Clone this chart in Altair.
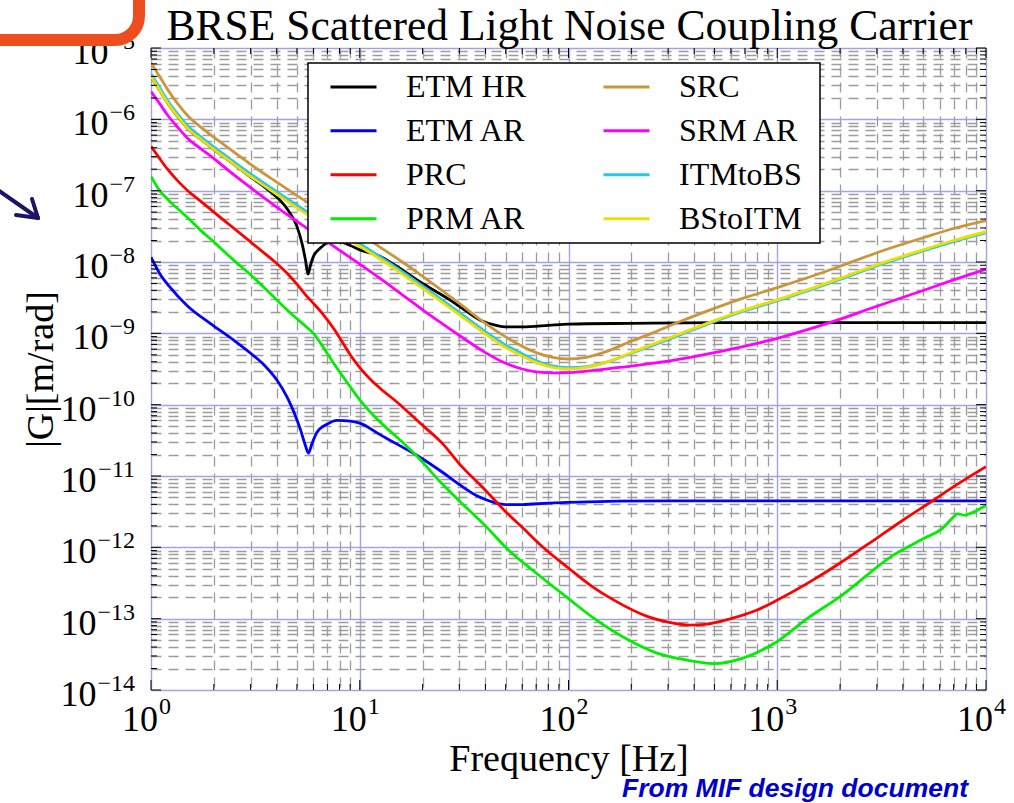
import altair as alt
import pandas as pd

# ---- scattered-light coupling |G| [m/rad] versus frequency [Hz] ----
ETM_HR_F = [1, 1.1, 1.2, 1.35, 1.5, 1.75, 2, 2.5, 3, 3.5, 4, 4.5, 5, 5.3, 5.5, 5.65, 5.8, 6.0,
            6.5, 7.2, 8, 9, 10, 12.5, 15, 20, 26, 30, 38, 45, 50, 60, 80, 100, 200, 500, 1000,
            3000, 10000]
ETM_HR_G = [3.98e-6, 2.57e-6, 1.70e-6, 1.07e-6, 7.41e-7, 5.13e-7, 3.80e-7, 2.34e-7, 1.55e-7,
            1.12e-7, 8.13e-8, 5.50e-8, 3.16e-8, 1.78e-8, 1.05e-8, 6.76e-9, 8.91e-9, 1.20e-8,
            1.58e-8, 1.91e-8, 1.91e-8, 1.70e-8, 1.48e-8, 1.20e-8, 8.71e-9, 5.01e-9, 3.16e-9,
            2.40e-9, 1.51e-9, 1.29e-9, 1.23e-9, 1.23e-9, 1.29e-9, 1.35e-9, 1.38e-9, 1.41e-9,
            1.41e-9, 1.41e-9, 1.41e-9]

ETM_AR_F = [1, 1.1, 1.23, 1.5, 1.92, 2.5, 3, 3.5, 4, 4.5, 4.8, 5.2, 5.5, 5.67, 5.9, 6.2, 7, 7.8,
            9, 10, 12.5, 15, 19, 25, 30, 36, 40, 45, 50, 60, 80, 100, 300, 1000, 10000]
ETM_AR_G = [1.17e-8, 6.92e-9, 4.47e-9, 2.40e-9, 1.38e-9, 7.94e-10, 5.25e-10, 3.55e-10, 2.24e-10,
            1.26e-10, 8.32e-11, 4.47e-11, 2.63e-11, 2.09e-11, 2.82e-11, 3.98e-11, 5.37e-11,
            6.03e-11, 5.89e-11, 5.50e-11, 3.80e-11, 2.82e-11, 1.91e-11, 1.12e-11, 7.59e-12,
            5.37e-12, 4.68e-12, 4.17e-12, 3.98e-12, 3.98e-12, 4.17e-12, 4.27e-12, 4.47e-12,
            4.47e-12, 4.47e-12]

PRC_F = [1, 1.1, 1.2, 1.35, 1.5, 1.75, 2, 2.5, 3, 3.5, 4, 4.5, 5, 5.5, 6, 6.7, 7.5, 8, 9, 10,
         11.2, 12.5, 15, 20, 25, 30, 40, 50, 60, 75, 100, 130, 165, 240, 300, 380, 450, 600,
         800, 1000, 1500, 2000, 3000, 4000, 5600, 7000, 10000]
PRC_G = [4.17e-7, 2.82e-7, 2.00e-7, 1.35e-7, 1.00e-7, 6.92e-8, 5.01e-8, 2.95e-8, 1.91e-8,
         1.32e-8, 9.55e-9, 6.92e-9, 4.90e-9, 3.47e-9, 2.63e-9, 1.82e-9, 1.17e-9, 8.71e-10,
         5.01e-10, 3.31e-10, 2.29e-10, 1.70e-10, 1.10e-10, 5.13e-11, 2.82e-11, 1.48e-11,
         6.31e-12, 3.16e-12, 1.91e-12, 1.02e-12, 5.13e-13, 2.82e-13, 1.82e-13, 1.07e-13,
         8.91e-14, 8.13e-14, 8.32e-14, 1.00e-13, 1.32e-13, 1.82e-13, 3.55e-13, 6.03e-13,
         1.35e-12, 2.40e-12, 4.57e-12, 7.08e-12, 1.35e-11]

PRM_AR_F = [1, 1.1, 1.23, 1.5, 1.72, 2, 2.48, 3, 3.6, 4, 4.8, 5.5, 6, 6.5, 7.5, 9, 10, 12.9, 15,
            18.6, 25, 30, 40, 50, 70, 100, 130, 200, 270, 340, 500, 690, 1000, 1390, 2000, 3600,
            5000, 6200, 6900, 7300, 7900, 8500, 10000]
PRM_AR_G = [1.58e-7, 1.00e-7, 7.08e-8, 4.17e-8, 2.82e-8, 1.91e-8, 1.07e-8, 6.61e-9, 3.98e-9,
            2.95e-9, 1.78e-9, 1.26e-9, 1.00e-9, 7.24e-10, 3.80e-10, 1.78e-10, 1.17e-10,
            5.25e-11, 3.55e-11, 1.95e-11, 7.59e-12, 4.47e-12, 2.00e-12, 1.00e-12, 4.37e-13,
            1.91e-13, 1.05e-13, 4.79e-14, 3.24e-14, 2.75e-14, 2.34e-14, 2.82e-14, 4.79e-14,
            1.00e-13, 2.04e-13, 7.76e-13, 1.32e-12, 1.86e-12, 2.57e-12, 2.95e-12, 2.82e-12,
            3.02e-12, 3.89e-12]

# SRC, ITMtoBS and BStoITM share one frequency grid
OPT_F = [1, 1.1, 1.2, 1.35, 1.5, 1.75, 2, 2.5, 3, 4, 5, 7, 10, 12.5, 16, 20, 30, 40, 50, 60, 70,
         85, 100, 120, 150, 200, 250, 340, 500, 700, 1000, 1500, 2000, 3000, 5000, 7000, 10000]
SRC_G = [6.17e-6, 3.98e-6, 2.63e-6, 1.62e-6, 1.12e-6, 7.59e-7, 5.62e-7, 3.47e-7, 2.34e-7,
         1.32e-7, 8.51e-8, 4.68e-8, 2.51e-8, 1.62e-8, 1.00e-8, 6.31e-9, 2.63e-9, 1.38e-9,
         8.91e-10, 6.61e-10, 5.37e-10, 4.57e-10, 4.37e-10, 4.57e-10, 5.50e-10, 7.76e-10,
         1.00e-9, 1.45e-9, 2.24e-9, 3.16e-9, 4.37e-9, 6.46e-9, 8.71e-9, 1.35e-8, 2.19e-8,
         2.95e-8, 3.80e-8]
ITM_TO_BS_G = [4.32e-6, 2.79e-6, 1.84e-6, 1.16e-6, 8.04e-7, 5.56e-7, 4.12e-7, 2.54e-7, 1.72e-7,
               9.66e-8, 6.24e-8, 3.35e-8, 1.80e-8, 1.19e-8, 7.33e-9, 4.62e-9, 1.97e-9, 1.06e-9,
               6.84e-10, 5.19e-10, 4.17e-10, 3.47e-10, 3.31e-10, 3.39e-10, 3.89e-10, 5.25e-10,
               6.68e-10, 9.44e-10, 1.46e-9, 2.07e-9, 2.85e-9, 4.22e-9, 5.69e-9, 8.81e-9,
               1.43e-8, 1.93e-8, 2.57e-8]
BS_TO_ITM_G = [3.98e-6, 2.57e-6, 1.70e-6, 1.07e-6, 7.41e-7, 5.13e-7, 3.80e-7, 2.34e-7, 1.58e-7,
               8.91e-8, 5.75e-8, 3.09e-8, 1.66e-8, 1.10e-8, 6.76e-9, 4.27e-9, 1.82e-9, 9.77e-10,
               6.31e-10, 4.79e-10, 3.89e-10, 3.31e-10, 3.16e-10, 3.31e-10, 3.89e-10, 5.37e-10,
               6.92e-10, 9.77e-10, 1.51e-9, 2.14e-9, 2.95e-9, 4.37e-9, 5.89e-9, 9.12e-9,
               1.48e-8, 2.00e-8, 2.66e-8]

SRM_AR_F = [1, 1.1, 1.2, 1.35, 1.5, 1.75, 2, 2.5, 3, 4, 5, 7, 10, 12.5, 16, 20, 25, 30, 40, 50,
            60, 70, 85, 100, 150, 200, 300, 500, 700, 1000, 1500, 2000, 3000, 5000, 7000, 10000]
SRM_AR_G = [2.45e-6, 1.66e-6, 1.15e-6, 7.59e-7, 5.37e-7, 3.80e-7, 2.82e-7, 1.66e-7, 1.10e-7,
            5.89e-8, 3.72e-8, 1.91e-8, 9.33e-9, 5.89e-9, 3.47e-9, 2.14e-9, 1.35e-9, 9.33e-10,
            5.37e-10, 3.80e-10, 3.16e-10, 2.88e-10, 2.79e-10, 2.82e-10, 3.16e-10, 3.47e-10,
            4.07e-10, 5.37e-10, 6.61e-10, 8.51e-10, 1.20e-9, 1.58e-9, 2.40e-9, 3.98e-9,
            5.62e-9, 7.94e-9]

# plotting order (later series are drawn on top); also the legend order, column by column
SERIES = [
    ("ETM HR", ETM_HR_F, ETM_HR_G),
    ("ETM AR", ETM_AR_F, ETM_AR_G),
    ("PRC", PRC_F, PRC_G),
    ("PRM AR", PRM_AR_F, PRM_AR_G),
    ("SRC", OPT_F, SRC_G),
    ("SRM AR", SRM_AR_F, SRM_AR_G),
    ("ITMtoBS", OPT_F, ITM_TO_BS_G),
    ("BStoITM", OPT_F, BS_TO_ITM_G),
]
COLORS = {
    "ETM HR": "#000000", "ETM AR": "#0000ff", "PRC": "#ff0000", "PRM AR": "#00ee00",
    "SRC": "#c9963a", "SRM AR": "#ff00ff", "ITMtoBS": "#22c8ee", "BStoITM": "#eedd00",
}
NAMES = [s[0] for s in SERIES]

X_TICK_EXP = [0, 1, 2, 3, 4]
Y_TICK_EXP = [-5, -6, -7, -8, -9, -10, -11, -12, -13, -14]

TITLE = "BRSE Scattered Light Noise Coupling Carrier"
X_TITLE = "Frequency [Hz]"
Y_TITLE = "|G|[m/rad]"
NOTE = "From MIF design document"

W, H = 835, 642
SERIF = "Liberation Serif"
MAJ_GRID = "#a4a4dc"
MIN_GRID = "#9c9c9c"

xs = alt.Scale(type="log", domain=[1, 1e4], nice=False)
ys = alt.Scale(type="log", domain=[1e-14, 1e-5], nice=False)
cs = alt.Scale(domain=NAMES, range=[COLORS[k] for k in NAMES])

x_major = [10.0 ** e for e in X_TICK_EXP]
x_minor = [m * 10.0 ** e for e in X_TICK_EXP[:-1] for m in range(2, 10)]
y_major = [10.0 ** e for e in Y_TICK_EXP]
y_minor = [m * 10.0 ** e for e in Y_TICK_EXP[1:] for m in range(2, 10)]

IS_MAJOR = "abs(log(datum.value)/LN10 - round(log(datum.value)/LN10)) < 0.001"


def grid_props():
    return dict(
        grid=True, ticks=False, labels=False, domain=False,
        gridColor={"condition": {"test": IS_MAJOR, "value": MAJ_GRID}, "value": MIN_GRID},
        gridDash={"condition": {"test": IS_MAJOR, "value": [1, 0]}, "value": [10, 7]},
        gridWidth={"condition": {"test": IS_MAJOR, "value": 1.4}, "value": 1.3},
        titleFont=SERIF, titleFontWeight="normal", titleColor="black",
        titleBaseline="alphabetic", titleAlign="center",
    )


# the same axis objects are given to every layer that uses the scale
x_axis = alt.Axis(values=sorted(x_major + x_minor), title=X_TITLE, titleFontSize=38,
                  titleX=W / 2, titleY=80, **grid_props())
y_axis = alt.Axis(values=sorted(y_major + y_minor), title=Y_TITLE, titleFontSize=38,
                  titleX=-99, titleY=H / 2, titleAngle=270, **grid_props())


def X(field):
    return alt.X(field, scale=xs, axis=x_axis)


def Y(field):
    return alt.Y(field, scale=ys, axis=y_axis)


legend = alt.Legend(
    title=None, orient="none", legendX=178, legendY=14.3, columns=2, columnPadding=70,
    rowPadding=3, padding=0, symbolType="stroke", symbolSize=2116, symbolStrokeWidth=3,
    labelFont=SERIF, labelFontSize=32, labelColor="black", labelOffset=28, labelLimit=0,
)

layers = []
for i, (name, f, g) in enumerate(SERIES):
    df = pd.DataFrame({"f": f, "G": g, "series": name})
    layers.append(
        alt.Chart(df).mark_line(strokeWidth=2.8, interpolate="monotone", clip=True).encode(
            x=X("f:Q"), y=Y("G:Q"),
            color=alt.Color("series:N", scale=cs, legend=legend if i == 0 else None),
        )
    )

one = pd.DataFrame({"k": [0]})

# legend frame
layers.append(
    alt.Chart(one).mark_rect(fill="white", stroke="black", strokeWidth=1.5).encode(
        x=alt.value(157), x2=alt.value(669), y=alt.value(15), y2=alt.value(195)
    )
)


# inward tick marks on all four sides
def xticks(vals, length):
    base = alt.Chart(pd.DataFrame({"v": vals})).mark_rule(color="black", strokeWidth=1)
    return [
        base.encode(x=X("v:Q"), y=alt.value(H), y2=alt.value(H - length)),
        base.encode(x=X("v:Q"), y=alt.value(0), y2=alt.value(length)),
    ]


def yticks(vals, length):
    base = alt.Chart(pd.DataFrame({"v": vals})).mark_rule(color="black", strokeWidth=1)
    return [
        base.encode(y=Y("v:Q"), x=alt.value(0), x2=alt.value(length)),
        base.encode(y=Y("v:Q"), x=alt.value(W), x2=alt.value(W - length)),
    ]


layers += xticks(x_major, 10) + xticks(x_minor, 6) + yticks(y_major, 10) + yticks(y_minor, 6)

# tick labels written as 10 with a raised exponent
xl = pd.DataFrame({"v": x_major, "base": "10", "exp": [str(e) for e in X_TICK_EXP]})
layers.append(
    alt.Chart(xl).mark_text(align="right", baseline="alphabetic", dx=7, font=SERIF,
                            fontSize=36, color="black").encode(
        x=X("v:Q"), y=alt.value(683), text="base:N")
)
layers.append(
    alt.Chart(xl).mark_text(align="left", baseline="alphabetic", dx=8, font=SERIF,
                            fontSize=24, color="black").encode(
        x=X("v:Q"), y=alt.value(666), text="exp:N")
)

yl = pd.DataFrame({"v": y_major, "e": Y_TICK_EXP, "base": "10",
                   "exp": ["\u2212" + str(abs(e)) for e in Y_TICK_EXP]})
layers.append(
    alt.Chart(yl).mark_text(align="right", baseline="alphabetic", dy=1, font=SERIF,
                            fontSize=24, color="black").encode(
        y=Y("v:Q"), x=alt.value(-16), text="exp:N")
)
for cond, xpos in (("datum.e >= -9", -42.5), ("datum.e <= -10", -54.5)):
    layers.append(
        alt.Chart(yl).transform_filter(cond).mark_text(
            align="right", baseline="alphabetic", dy=16, font=SERIF, fontSize=36,
            color="black").encode(
            y=Y("v:Q"), x=alt.value(xpos), text="base:N")
    )

# chart heading
layers.append(
    alt.Chart(pd.DataFrame({"t": [TITLE]})).mark_text(
        align="center", baseline="alphabetic", font=SERIF, fontSize=43.5, color="black").encode(
        x=alt.value(W / 2 + 1), y=alt.value(-8), text="t:N")
)

# slide callout box and pointer
layers.append(
    alt.Chart(one).mark_rect(fill="white", stroke="#ee4e1f", strokeWidth=12, cornerRadius=24).encode(
        x=alt.value(-201), x2=alt.value(-12), y=alt.value(-98), y2=alt.value(-8))
)
for (x1, y1, x2, y2) in ((-156, 140, -113, 170), (-113, 170, -119, 151), (-113, 170, -135, 167)):
    layers.append(
        alt.Chart(one).mark_rule(color="#1c1466", strokeWidth=4, strokeCap="round").encode(
            x=alt.value(x1), y=alt.value(y1), x2=alt.value(x2), y2=alt.value(y2))
    )

layers.append(
    alt.Chart(pd.DataFrame({"t": [NOTE]})).mark_text(
        align="left", baseline="alphabetic", font="Liberation Sans", fontWeight="bold",
        fontStyle="italic", fontSize=26.5, color="#0000cc").encode(
        x=alt.value(471), y=alt.value(749), text="t:N")
)

chart = alt.layer(*layers).properties(
    width=W, height=H,
    autosize=alt.AutoSizeParams(type="none"),
    padding={"left": 151, "top": 48, "right": 28, "bottom": 113},
).configure_view(stroke="black", strokeWidth=1.5).configure(background="white")

chart.save("out.html", embed_options={"renderer": "svg", "actions": False})
